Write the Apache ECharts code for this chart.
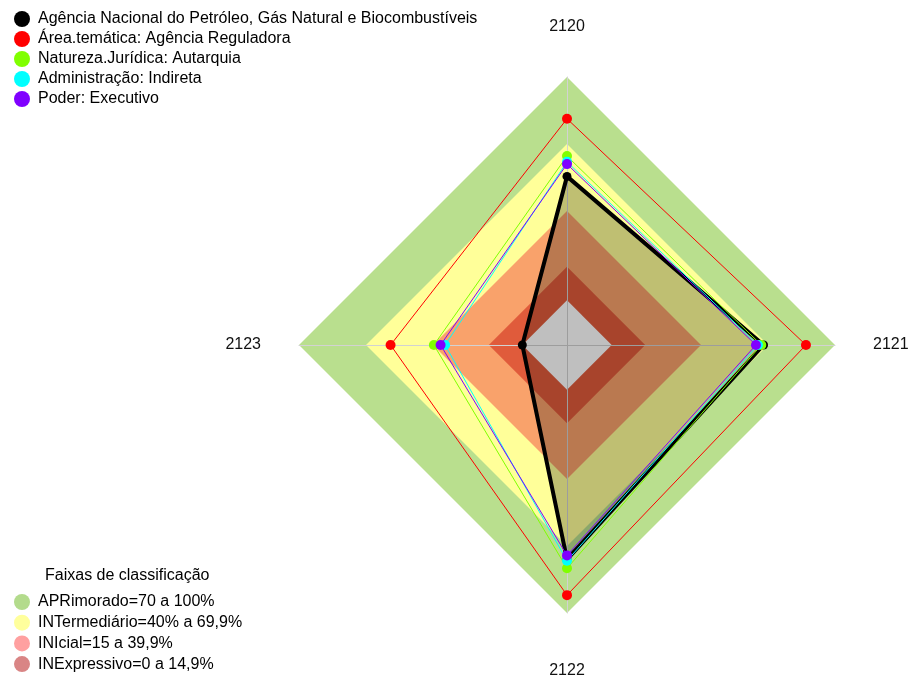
<!DOCTYPE html>
<html><head><meta charset="utf-8">
<script src="https://cdn.jsdelivr.net/npm/echarts@6/dist/echarts.min.js"></script>
<style>html,body{margin:0;padding:0;background:#fff}#c{width:909px;height:680px}</style>
</head><body><div id="c"></div>
<script>
// Indicator order as laid out by ECharts (top, then counter-clockwise)
const indicators = ['2120', '2123', '2122', '2121'];
const seriesNames = [
  'Agência Nacional do Petróleo, Gás Natural e Biocombustíveis',
  'Área.temática: Agência Reguladora',
  'Natureza.Jurídica: Autarquia',
  'Administração: Indireta',
  'Poder: Executivo'
];
const seriesColors = ['#000000', '#ff0000', '#80ff00', '#00ffff', '#8000ff'];
const agencia       = [55.5, 0,    76,   68];
const areaTematica  = [81.3, 59,   92,   87];
const natureza      = [64.6, 39.6, 80,   67];
const administracao = [62,   34.6, 76.6, 65.5];
const poder         = [61,   36.6, 74.2, 64.6];
const seriesValues = [agencia, areaTematica, natureza, administracao, poder];

const bandNames = ['APRimorado=70 a 100%', 'INTermediário=40% a 69,9%', 'INIcial=15 a 39,9%', 'INExpressivo=0 a 14,9%'];
const bandLimits = [100, 70, 40, 15];
const bandFill = ['#b9df8e', '#ffff99', '#f9a26b', '#e05b3b'];
const bandLegend = ['#b3db8c', '#ffff9c', '#ffa0a0', '#d98585'];
const axisMin = -20, axisMax = 100, bandFloor = 0;

const FONT = 'Liberation Sans, Arial, sans-serif';
const chart = echarts.init(document.getElementById('c'), null, {renderer: 'canvas'});

const series = [];
bandNames.forEach((n, i) => {
  series.push({
    type: 'radar', name: n, z: 1, silent: true, symbol: 'none',
    itemStyle: {color: bandLegend[i]},
    lineStyle: {width: 0, opacity: 0},
    areaStyle: {color: bandFill[i], opacity: 1},
    data: [{value: indicators.map(() => bandLimits[i]), name: n}]
  });
});
// white core below the 0% floor
series.push({
  type: 'radar', name: 'core', z: 1, silent: true, symbol: 'none',
  lineStyle: {width: 0, opacity: 0},
  areaStyle: {color: '#ffffff', opacity: 1},
  data: [{value: indicators.map(() => bandFloor), name: 'core'}]
});
seriesNames.forEach((n, i) => {
  const isMain = i === 0;
  series.push({
    type: 'radar', name: n, z: 3 + i, silent: true,
    symbol: 'circle', symbolSize: isMain ? 9 : 10,
    itemStyle: {color: seriesColors[i]},
    lineStyle: {color: seriesColors[i], width: isMain ? 4 : 1},
    areaStyle: isMain ? {color: 'rgba(0,0,0,0.25)', opacity: 1} : undefined,
    data: [{value: seriesValues[i], name: n}]
  });
});

chart.setOption({
  animation: false,
  backgroundColor: '#fff',
  textStyle: {fontFamily: FONT},
  title: [{
    text: 'Faixas de classificação', left: 40, top: 563,
    textStyle: {fontFamily: FONT, fontSize: 16, fontWeight: 'normal', color: '#000'}
  }],
  legend: [{
    data: seriesNames, orient: 'vertical', left: 9, top: 6,
    icon: 'circle', itemWidth: 16, itemHeight: 16, itemGap: 4,
    textStyle: {fontFamily: FONT, fontSize: 16, color: '#000', lineHeight: 16, padding: [0, 0, 0, 3]},
    selectedMode: false
  }, {
    data: bandNames, orient: 'vertical', left: 9, top: 589, height: 90,
    icon: 'circle', itemWidth: 16, itemHeight: 16, itemGap: 4.7,
    textStyle: {fontFamily: FONT, fontSize: 16, color: '#000', lineHeight: 16, padding: [0, 0, 0, 3]},
    selectedMode: false
  }],
  radar: {
    z: 2,
    center: [567, 345], radius: 268, startAngle: 90, shape: 'polygon',
    indicator: indicators.map(n => ({name: n, min: axisMin, max: axisMax})),
    splitNumber: 1,
    nameGap: 38,
    axisName: {
      color: '#111', fontSize: 16, fontFamily: FONT,
      formatter: function (name) {
        if (name === indicators[0]) return '{t|' + name + '}';
        if (name === indicators[2]) return '{b|' + name + '}';
        return name;
      },
      rich: {
        t: {fontSize: 16, fontFamily: FONT, color: '#111', padding: [0, 0, 4, 0]},
        b: {fontSize: 16, fontFamily: FONT, color: '#111', padding: [12, 0, 0, 0]}
      }
    },
    axisLine: {show: true, lineStyle: {color: '#d2d2d2', width: 1}},
    splitLine: {show: false},
    splitArea: {show: false},
    axisTick: {show: false},
    axisLabel: {show: false}
  },
  series: series
});
</script></body></html>
